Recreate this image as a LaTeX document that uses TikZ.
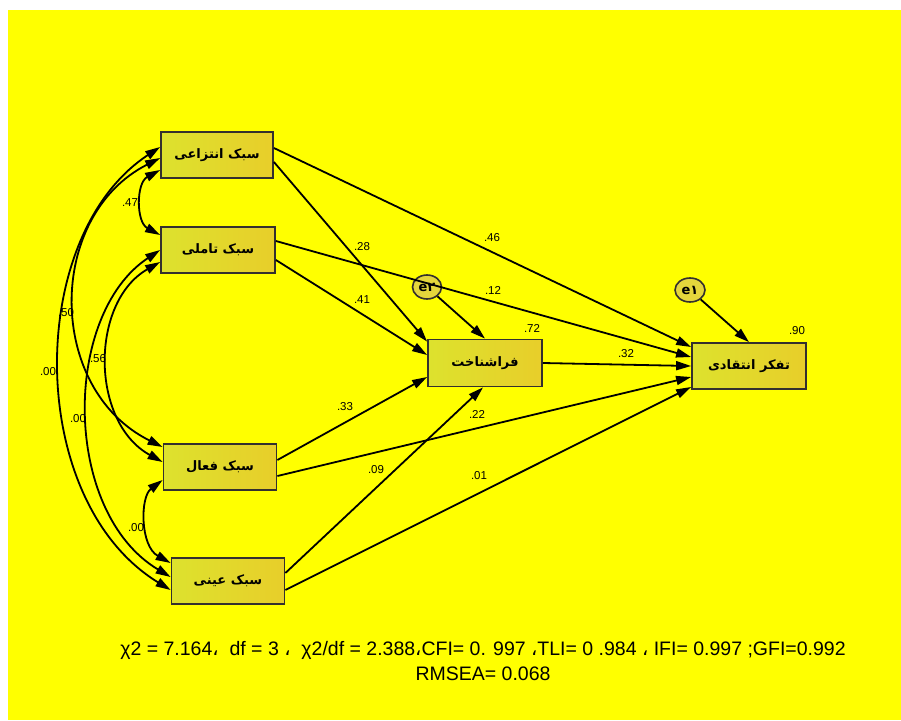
\documentclass[tikz,border=0pt]{standalone}
\usepackage{fontspec}
\setmainfont{Liberation Sans}
\newfontfamily\arabicfont[Script=Arabic]{DejaVu Sans}
\TeXXeTstate=1
\usetikzlibrary{arrows.meta,shapes.geometric}
\definecolor{bgY}{RGB}{255,255,0}
\definecolor{boxL}{RGB}{221,226,45}
\definecolor{boxR}{RGB}{232,206,42}
\definecolor{errfill}{RGB}{228,214,60}
\tikzset{
  obsbox/.style={draw=black!92!yellow, line width=1.8pt, left color=boxL, right color=boxR,
    minimum width=113pt, minimum height=46pt, inner sep=0pt,
    font=\arabicfont\bfseries\fontsize{13}{14}\selectfont},
  errnode/.style={ellipse, draw=black!92!yellow, line width=1.6pt, fill=errfill,
    minimum width=29pt, minimum height=24pt, inner sep=0pt,
    font=\arabicfont\bfseries\fontsize{13}{14}\selectfont},
  regr/.style={line width=1.8pt, -{Triangle[length=15pt,width=9pt]}},
  covar/.style={line width=1.8pt, {Triangle[length=15pt,width=9pt]}-{Triangle[length=15pt,width=9pt]}},
  coef/.style={font=\fontsize{11.5}{12}\selectfont, inner sep=0pt},
}
\begin{document}
\begin{tikzpicture}[x=1pt,y=-1pt]
\useasboundingbox (0,0) rectangle (901,720);
\fill[bgY] (8,10) rectangle (901,720);

% observed variables
\node[obsbox, minimum width=112pt] (A) at (217,155) {\beginR سبک انتزاعی\endR};
\node[obsbox, minimum width=114pt] (T) at (218,250) {\beginR سبک تاملی\endR};
\node[obsbox] (F) at (220,467) {\beginR سبک فعال\endR};
\node[obsbox] (N) at (228,581) {\beginR سبک عینی\endR};
\node[obsbox, minimum width=114pt, minimum height=47pt] (M) at (485,363) {\beginR فراشناخت\endR};
\node[obsbox, minimum width=114pt] (C) at (749,366) {\beginR تفکر انتقادی\endR};

% error terms
\node[errnode] (e2) at (427,287) {e\beginR ۲\endR};
\node[errnode, minimum width=30pt] (e1) at (690,290) {e\beginR ۱\endR};

% regression paths
\draw[regr] ([yshift=-7pt]A.east) -- ([yshift=-3pt]M.north west);
\draw[regr] ([yshift=-10pt]T.east) -- ([yshift=8pt]M.west);
\draw[regr] ([yshift=7pt]F.east) -- ([yshift=-14pt]M.west);
\draw[regr] ([yshift=8pt]N.east) -- ([xshift=-2pt]M.south);
\draw[regr] (e2) -- (M.north);

\draw[regr] ([yshift=7pt]A.east) -- ([yshift=19pt]C.west);
\draw[regr] ([yshift=9pt]T.east) -- ([yshift=9pt]C.west);
\draw[regr] (M.east) -- ([yshift=0pt]C.west);
\draw[regr] ([yshift=-9pt]F.east) -- ([yshift=-11pt]C.west);
\draw[regr] ([yshift=-9pt]N.east) -- ([yshift=-21pt]C.west);
\draw[regr] (e1) -- (C.north);

% covariances
\draw[covar] ([yshift=8pt]A.west) .. controls (25,236) and (25,501) .. ([yshift=-9pt]N.west);
\draw[covar] ([yshift=-3pt]A.west) .. controls (46,216) and (46,389) .. ([yshift=20pt]F.west);
\draw[covar] ([yshift=-15pt]A.west) .. controls (136,183) and (136,222) .. ([yshift=15pt]T.west);
\draw[covar] ([yshift=-12pt]T.west) .. controls (90,302) and (90,422) .. ([yshift=5pt]F.west);
\draw[covar] ([yshift=0pt]T.west) .. controls (62,315) and (62,512) .. ([yshift=4pt]N.west);
\draw[covar] ([yshift=-13pt]F.west) .. controls (140,497) and (140,546) .. ([yshift=18pt]N.west);

% coefficients
\node[coef] (c47) at (130,203) {.47};
\node[coef] (c50) at (66,313) {.50};
\node[coef] (c00a) at (48,372) {.00};
\node[coef] (c56) at (98,359) {.56};
\node[coef] (c00b) at (78,419) {.00};
\node[coef] (c00c) at (136,528) {.00};
\node[coef] (c28) at (362,247) {.28};
\node[coef] (c41) at (362,300) {.41};
\node[coef] (c46) at (492,238) {.46};
\node[coef] (c12) at (493,290) {.12};
\node[coef] (c72) at (532,328) {.72};
\node[coef] (c90) at (797,331) {.90};
\node[coef] (c32) at (626,354) {.32};
\node[coef] (c33) at (345,407) {.33};
\node[coef] (c22) at (477,414) {.22};
\node[coef] (c09) at (376,470) {.09};
\node[coef] (c01) at (479,476) {.01};

% fit indices
\node[align=center, inner sep=0pt, font=\fontsize{19.5}{25}\selectfont] (fit) at (483,661)
  {χ2 = 7.164{\arabicfont ،}\ \ df = 3 {\arabicfont ،}\ \ χ2/df = 2.388{\arabicfont ،}CFI= 0. 997 {\arabicfont ،}TLI= 0 .984 {\arabicfont ،} IFI= 0.997 ;GFI=0.992\\RMSEA= 0.068};
\end{tikzpicture}
\end{document}
